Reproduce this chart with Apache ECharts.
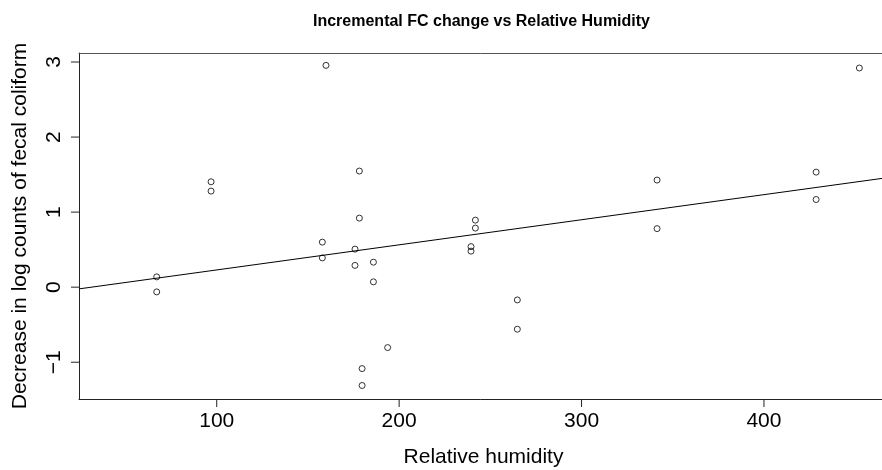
<!DOCTYPE html>
<html>
<head>
<meta charset="utf-8">
<script src="https://cdn.jsdelivr.net/npm/echarts@6/dist/echarts.min.js"></script>
<style>
html,body{margin:0;padding:0;background:#fff;}
#chart{width:882px;height:470px;}
</style>
</head>
<body>
<div id="chart"></div>
<script>
// ---- data ----
const humidity = [67.1, 67.1, 96.9, 96.9, 159.9, 178.2, 178.2, 157.9, 157.9, 175.8, 175.8, 185.9, 185.9, 193.7, 179.7, 179.7,
                  452.3, 241.8, 241.8, 239.4, 239.4, 264.8, 264.8, 341.4, 341.4, 428.6, 428.6];
const fcDecrease = [0.137, -0.063, 1.404, 1.28, 2.955, 1.547, 0.92, 0.60, 0.39, 0.507, 0.29, 0.333, 0.071, -0.805, -1.085, -1.31,
                    2.92, 0.893, 0.787, 0.54, 0.48, -0.17, -0.56, 1.427, 0.78, 1.533, 1.168];
const xTicks = [100, 200, 300, 400];
const yTicks = [-1, 0, 1, 2, 3];
const xRange = [24.5, 468];
const yRange = [-1.49, 3.12];
const titleText = 'Incremental FC change vs Relative Humidity';
const xName = 'Relative humidity';
const yName = 'Decrease in log counts of fecal coliform';

// least squares fit (abline of lm)
const n = humidity.length;
const mx = humidity.reduce((a, b) => a + b, 0) / n;
const my = fcDecrease.reduce((a, b) => a + b, 0) / n;
let sxy = 0, sxx = 0;
for (let i = 0; i < n; i++) { sxy += (humidity[i] - mx) * (fcDecrease[i] - my); sxx += (humidity[i] - mx) ** 2; }
const slope = sxy / sxx;
const intercept = my - slope * mx;
const fitLine = xRange.map(x => [x, intercept + slope * x]);

const FONT = "'Liberation Sans', Arial, Helvetica, sans-serif";
const TICK_LEN = 8;
const fmtNum = v => (v < 0 ? '\u2212' + Math.abs(v) : String(v));
const chart = echarts.init(document.getElementById('chart'), null, {renderer: 'canvas'});
chart.setOption({
  animation: false,
  title: {
    text: titleText,
    left: 313, top: 14, padding: 0,
    textStyle: {fontFamily: FONT, fontSize: 16, fontWeight: 'bold', color: '#000'}
  },
  grid: {left: 79, top: 53, width: 809, height: 346, containLabel: false, outerBoundsMode: 'none', show: false},
  xAxis: [{
    type: 'value', min: xRange[0], max: xRange[1], position: 'bottom',
    name: xName, nameLocation: 'middle', nameGap: 48,
    nameTextStyle: {fontFamily: FONT, fontSize: 21, color: '#000'},
    axisLine: {show: true, onZero: false, lineStyle: {color: '#222', width: 1}},
    axisTick: {show: false},
    axisLabel: {
      customValues: xTicks, margin: 0,
      formatter: v => '{t| }\n{v|' + fmtNum(v) + '}',
      rich: {
        t: {width: 1, height: TICK_LEN, lineHeight: TICK_LEN, fontSize: 1, backgroundColor: '#222'},
        v: {fontFamily: FONT, fontSize: 21, color: '#000', padding: [4, 0, 0, 0]}
      }
    },
    splitLine: {show: false}
  }, {
    type: 'value', min: xRange[0], max: xRange[1], position: 'top',
    axisLine: {show: true, onZero: false, lineStyle: {color: '#555', width: 1}},
    axisTick: {show: false}, axisLabel: {show: false}, splitLine: {show: false}
  }],
  yAxis: {
    type: 'value', min: yRange[0], max: yRange[1], position: 'left',
    name: yName, nameLocation: 'middle', nameGap: 48, nameRotate: 90,
    nameTextStyle: {fontFamily: FONT, fontSize: 21, color: '#000'},
    axisLine: {show: true, onZero: false, lineStyle: {color: '#222', width: 1}},
    axisTick: {show: false},
    axisLabel: {
      customValues: yTicks, rotate: 90, margin: 0,
      formatter: v => '{v|' + fmtNum(v) + '}\n{t| }',
      rich: {
        t: {width: 1, height: TICK_LEN, lineHeight: TICK_LEN, fontSize: 1, backgroundColor: '#222'},
        v: {fontFamily: FONT, fontSize: 21, color: '#000', padding: [0, 0, 6, 0]}
      }
    },
    splitLine: {show: false}
  },
  series: [
    {
      type: 'scatter',
      data: humidity.map((x, i) => [x, fcDecrease[i]]),
      symbol: 'circle', symbolSize: 6,
      itemStyle: {color: 'rgba(0,0,0,0)', borderColor: '#000', borderWidth: 1},
      emphasis: {disabled: true},
      z: 2
    },
    {
      type: 'line',
      data: fitLine,
      symbol: 'none',
      lineStyle: {color: '#000', width: 1},
      clip: true,
      z: 3
    }
  ]
});
</script>
</body>
</html>
